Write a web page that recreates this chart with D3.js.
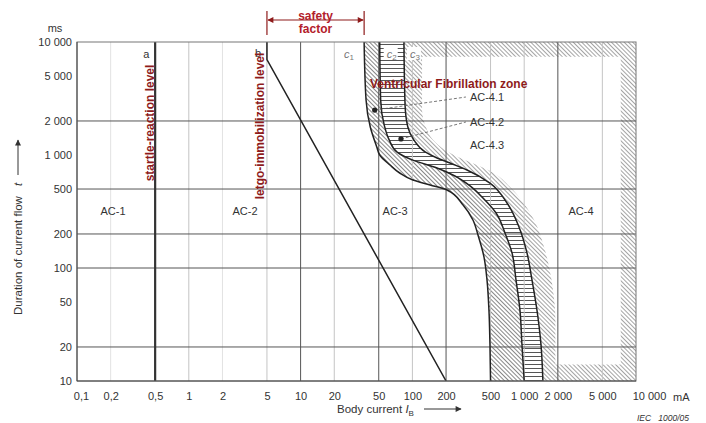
<!DOCTYPE html>
<html>
<head>
<meta charset="utf-8">
<script src="https://cdn.jsdelivr.net/npm/d3@7"></script>
<style>
  body { margin: 0; background: #fff; }
  text { font-family: "Liberation Sans", Arial, sans-serif; fill: #333; }
</style>
</head>
<body>
<div id="chart"></div>
<script>
// axis ticks
var xTicks = [0.1, 0.2, 0.5, 1, 2, 5, 10, 20, 50, 100, 200, 500, 1000, 2000, 5000, 10000];
var xTickLabels = ['0,1', '0,2', '0,5', '1', '2', '5', '10', '20', '50', '100', '200', '500', '1 000', '2 000', '5 000', '10 000'];
var yTicks = [10, 20, 50, 100, 200, 500, 1000, 2000, 5000, 10000];
var yTickLabels = ['10', '20', '50', '100', '200', '500', '1 000', '2 000', '5 000', '10 000'];
var xGridDark = [10, 50, 200, 2000];
var xGridLight = [1, 5, 20, 100, 500, 1000, 5000];
var xGridFaint = [0.2, 2];
var yGrid = [20, 100, 200, 500, 2000];

// curves [mA, ms]
var curveA = [[0.5, 10000], [0.5, 10]];
var curveB = [[5, 10000], [5, 7000], [200, 10]];
var curveC1 = [[37, 10000], [38.5, 3070], [42, 1770], [48, 1180], [51, 1000], [63, 816], [77, 693], [101, 601], [144, 543], [204, 490], [284, 361], [348, 266], [386, 196], [437, 125], [465, 78], [484, 42], [494, 21], [500, 10]];
var curveC2 = [[51, 10000], [52, 3070], [56, 1840], [62, 1360], [73, 1060], [101, 900], [166, 767], [240, 652], [328, 532], [428, 416], [560, 307], [673, 204], [778, 136], [845, 78], [917, 42], [955, 21], [1000, 10]];
var curveC3 = [[84, 10000], [86, 2770], [91, 1770], [103, 1360], [130, 1064], [166, 940], [217, 849], [308, 737], [494, 565], [702, 376], [898, 231], [1059, 136], [1175, 78], [1300, 42.5], [1413, 21], [1470, 10]];
var curveOuter = [[122, 10000], [122, 2500], [132, 1770], [153, 1360], [196, 1107], [267, 940], [378, 816], [515, 708], [746, 521], [1016, 361], [1250, 255], [1470, 166], [1670, 102], [1810, 64], [1900, 35], [1900, 10]];
// inner edge of the AC-4 hatched frame: mA, ms top, ms bottom
var ac4Frame = [7300, 7400, 14];

var zoneLabels = ['AC-1', 'AC-2', 'AC-3', 'AC-4'];
var zoneAt = [[0.21, 319], [3.18, 319], [70, 319], [3220, 319]];
var subLabels = ['AC-4.1', 'AC-4.2', 'AC-4.3'];
var subAt = [[327, 3260], [327, 1960], [327, 1225]];
var subDots = [[46, 2500], [79, 1387]];

var svgWidth = 706, svgHeight = 423;
var svg = d3.select('#chart').append('svg').attr('width', svgWidth).attr('height', svgHeight)
  .style('background', '#fff');

var x = d3.scaleLog().domain([0.1, 10000]).range([77, 636]);
var y = d3.scaleLog().domain([10, 10000]).range([381, 42]);
var red = '#8e1b1b';

var defs = svg.append('defs');
defs.append('clipPath').attr('id', 'plot').append('rect')
  .attr('x', x(0.1)).attr('y', y(10000)).attr('width', x(10000) - x(0.1)).attr('height', y(10) - y(10000));
defs.append('clipPath').attr('id', 'inner').append('rect')
  .attr('x', x(0.1)).attr('y', y(ac4Frame[1])).attr('width', x(10000) - x(0.1)).attr('height', y(ac4Frame[2]) - y(ac4Frame[1]));

function hatch(id, color, gap, w) {
  var p = defs.append('pattern').attr('id', id).attr('patternUnits', 'userSpaceOnUse')
    .attr('width', gap).attr('height', gap).attr('patternTransform', 'rotate(-45)');
  p.append('line').attr('x1', 0.5).attr('y1', 0).attr('x2', 0.5).attr('y2', gap)
    .attr('stroke', color).attr('stroke-width', w);
}
hatch('hatchA', '#7a7a7a', 3, 0.9);
hatch('hatchC', '#9a9a9a', 3, 0.9);
var stripes = defs.append('pattern').attr('id', 'stripes').attr('patternUnits', 'userSpaceOnUse')
  .attr('width', 10).attr('height', 4);
stripes.append('rect').attr('width', 10).attr('height', 4).attr('fill', '#fff');
stripes.append('line').attr('x1', 0).attr('x2', 10).attr('y1', 0.5).attr('y2', 0.5)
  .attr('stroke', '#555').attr('stroke-width', 1);

function arrowMarker(id, color) {
  defs.append('marker').attr('id', id).attr('viewBox', '0 0 10 10').attr('refX', 9).attr('refY', 5)
    .attr('markerWidth', 9).attr('markerHeight', 6).attr('orient', 'auto-start-reverse')
    .attr('markerUnits', 'userSpaceOnUse')
    .append('path').attr('d', 'M0,0L10,5L0,10Z').attr('fill', color);
}
arrowMarker('arr', '#333');
arrowMarker('arrRed', red);

var line = d3.line()
  .x(function(d) { return x(d[0]); })
  .y(function(d) { return y(d[1]); })
  .curve(d3.curveMonotoneY);
var straight = d3.line()
  .x(function(d) { return x(d[0]); })
  .y(function(d) { return y(d[1]); });

function band(left, right) {
  return line(left) + 'L' + line(right.slice().reverse()).slice(1) + 'Z';
}

var plot = svg.append('g').attr('clip-path', 'url(#plot)');

// zones
plot.append('path').attr('d', band(curveC3, [[10000, 10000], [10000, 10]])).attr('fill', 'url(#hatchC)');
plot.append('g').attr('clip-path', 'url(#inner)').append('path')
  .attr('d', band(curveOuter, [[ac4Frame[0], 10000], [ac4Frame[0], 10]])).attr('fill', '#fff');
plot.append('path').attr('d', band(curveC1, curveC2)).attr('fill', '#fff');
plot.append('path').attr('d', band(curveC1, curveC2)).attr('fill', 'url(#hatchA)');
plot.append('path').attr('d', band(curveC2, curveC3)).attr('fill', 'url(#stripes)');

// grid
function vgrid(vals, color) {
  plot.selectAll(null).data(vals).enter().append('line')
    .attr('x1', function(d) { return x(d); }).attr('x2', function(d) { return x(d); })
    .attr('y1', y(10000)).attr('y2', y(10)).attr('stroke', color).attr('stroke-width', 1);
}
vgrid(xGridFaint, '#e2e2e2');
vgrid(xGridLight, '#c4c4c4');
vgrid(xGridDark, '#555');
plot.selectAll(null).data(yGrid).enter().append('line')
  .attr('x1', x(0.1)).attr('x2', x(10000))
  .attr('y1', function(d) { return y(d); }).attr('y2', function(d) { return y(d); })
  .attr('stroke', '#555').attr('stroke-width', 1);

// frame
svg.append('rect').attr('x', x(0.1)).attr('y', y(10000)).attr('width', x(10000) - x(0.1))
  .attr('height', y(10) - y(10000)).attr('fill', 'none').attr('stroke', '#777');
svg.append('line').attr('x1', x(0.1)).attr('x2', x(0.1)).attr('y1', y(10000)).attr('y2', y(10))
  .attr('stroke', '#444');
svg.append('line').attr('x1', x(0.1)).attr('x2', x(10000)).attr('y1', y(10)).attr('y2', y(10))
  .attr('stroke', '#444');

// curves
plot.append('path').attr('d', straight(curveA)).attr('fill', 'none').attr('stroke', '#333').attr('stroke-width', 2.2);
plot.append('path').attr('d', straight(curveB)).attr('fill', 'none').attr('stroke', '#222').attr('stroke-width', 1.5);
[curveC1, curveC2, curveC3].forEach(function(c) {
  plot.append('path').attr('d', line(c)).attr('fill', 'none').attr('stroke', '#222').attr('stroke-width', 1.5);
});

// axes
var xAxis = svg.append('g').attr('transform', 'translate(0,' + y(10) + ')')
  .call(d3.axisBottom(x).tickValues(xTicks).tickSize(0).tickPadding(11)
    .tickFormat(function(d, i) { return xTickLabels[i]; }));
var yAxis = svg.append('g').attr('transform', 'translate(' + x(0.1) + ',0)')
  .call(d3.axisLeft(y).tickValues(yTicks).tickSize(0).tickPadding(5)
    .tickFormat(function(d, i) { return yTickLabels[i]; }));
svg.selectAll('.domain').remove();
svg.selectAll('.tick text').attr('font-size', 11).attr('fill', '#333')
  .attr('font-family', '"Liberation Sans", Arial, sans-serif');
xAxis.selectAll('.tick text').filter(function(d) { return d === 0.1; }).attr('dx', 4);
xAxis.selectAll('.tick text').filter(function(d) { return d === 10000; }).attr('dx', 13);

svg.append('text').attr('x', 673).attr('y', 401).attr('font-size', 11).text('mA');
svg.append('text').attr('x', 55).attr('y', 32).attr('text-anchor', 'middle').attr('font-size', 11).text('ms');

// axis titles
var yt = svg.append('text').attr('transform', 'translate(22,315) rotate(-90)').attr('font-size', 11.5);
yt.append('tspan').text('Duration of current flow');
yt.append('tspan').attr('dx', 10).attr('font-style', 'italic').text('t');
svg.append('line').attr('x1', 18).attr('x2', 18).attr('y1', 175).attr('y2', 140)
  .attr('stroke', '#333').attr('stroke-width', 1).attr('marker-end', 'url(#arr)');

var xt = svg.append('text').attr('x', 337).attr('y', 413).attr('font-size', 11.5);
xt.append('tspan').text('Body current ');
xt.append('tspan').attr('font-style', 'italic').text('I');
xt.append('tspan').attr('font-size', 8).attr('dy', 3).text('B');
svg.append('line').attr('x1', 424).attr('x2', 461).attr('y1', 409).attr('y2', 409)
  .attr('stroke', '#333').attr('stroke-width', 1).attr('marker-end', 'url(#arr)');

svg.append('text').attr('x', 637).attr('y', 421).attr('font-size', 8.5).attr('font-style', 'italic')
  .attr('xml:space', 'preserve').text('IEC   1000/05');

// curve letters
svg.append('text').attr('x', x(0.5) - 12).attr('y', 58).attr('font-size', 11).text('a');
svg.append('text').attr('x', x(5) - 12).attr('y', 57).attr('font-size', 11).text('b');
function cLabel(px, sub, bg) {
  if (bg) {
    svg.append('rect').attr('x', px - 3).attr('y', 47).attr('width', 14).attr('height', 13).attr('fill', '#fff');
  }
  var t = svg.append('text').attr('x', px).attr('y', 58).attr('font-size', 11).style('fill', '#777');
  t.append('tspan').attr('font-style', 'italic').text('c');
  t.append('tspan').attr('font-size', 8).attr('dy', 2).text(sub);
}
cLabel(x(curveC1[0][0]) - 20, '1', false);
cLabel(x(curveC2[0][0]) + 7, '2', true);
cLabel(x(curveC3[0][0]) + 6, '3', true);

// red annotations
svg.append('text').attr('transform', 'translate(' + (x(0.5) - 1) + ',123) rotate(-90)')
  .attr('text-anchor', 'middle').attr('font-size', 12).attr('font-weight', 'bold')
  .style('fill', red).text('startle-reaction level');
svg.append('text').attr('transform', 'translate(' + (x(5) - 3) + ',126) rotate(-90)')
  .attr('text-anchor', 'middle').attr('font-size', 12).attr('font-weight', 'bold')
  .style('fill', red).text('letgo-immobilization level');
svg.append('text').attr('x', 370).attr('y', 88).attr('font-size', 12).attr('font-weight', 'bold')
  .style('fill', red).text('Ventricular Fibrillation zone');

var sx1 = x(5), sx2 = x(curveC1[0][0]);
svg.append('line').attr('x1', sx1).attr('x2', sx1).attr('y1', 11).attr('y2', 35).attr('stroke', red).attr('stroke-width', 1.2);
svg.append('line').attr('x1', sx2).attr('x2', sx2).attr('y1', 11).attr('y2', 35).attr('stroke', red).attr('stroke-width', 1.2);
svg.append('line').attr('x1', sx1 + 1).attr('x2', sx2 - 1).attr('y1', 20).attr('y2', 20)
  .attr('stroke', red).attr('stroke-width', 1.2)
  .attr('marker-start', 'url(#arrRed)').attr('marker-end', 'url(#arrRed)');
svg.append('text').attr('x', (sx1 + sx2) / 2).attr('y', 20).attr('text-anchor', 'middle')
  .attr('font-size', 12).attr('font-weight', 'bold').style('fill', '#b3202a').text('safety');
svg.append('text').attr('x', (sx1 + sx2) / 2).attr('y', 33).attr('text-anchor', 'middle')
  .attr('font-size', 12).attr('font-weight', 'bold').style('fill', '#b3202a').text('factor');

// zone labels
svg.selectAll(null).data(zoneLabels).enter().append('text')
  .attr('x', function(d, i) { return x(zoneAt[i][0]); })
  .attr('y', function(d, i) { return y(zoneAt[i][1]) + 4; })
  .attr('text-anchor', 'middle').attr('font-size', 11).text(function(d) { return d; });

svg.selectAll(null).data(subLabels).enter().append('text')
  .attr('x', function(d, i) { return x(subAt[i][0]); })
  .attr('y', function(d, i) { return y(subAt[i][1]) + 4; })
  .attr('font-size', 11).text(function(d) { return d; });

svg.selectAll(null).data(subDots).enter().append('line')
  .attr('x1', function(d) { return x(d[0]); }).attr('y1', function(d) { return y(d[1]); })
  .attr('x2', function(d, i) { return x(subAt[i][0]) - 4; })
  .attr('y2', function(d, i) { return y(subAt[i][1]); })
  .attr('stroke', '#555').attr('stroke-width', 0.8).attr('stroke-dasharray', '3,2');
svg.selectAll(null).data(subDots).enter().append('circle')
  .attr('cx', function(d) { return x(d[0]); }).attr('cy', function(d) { return y(d[1]); })
  .attr('r', 2.6).attr('fill', '#222');
</script>
</body>
</html>
